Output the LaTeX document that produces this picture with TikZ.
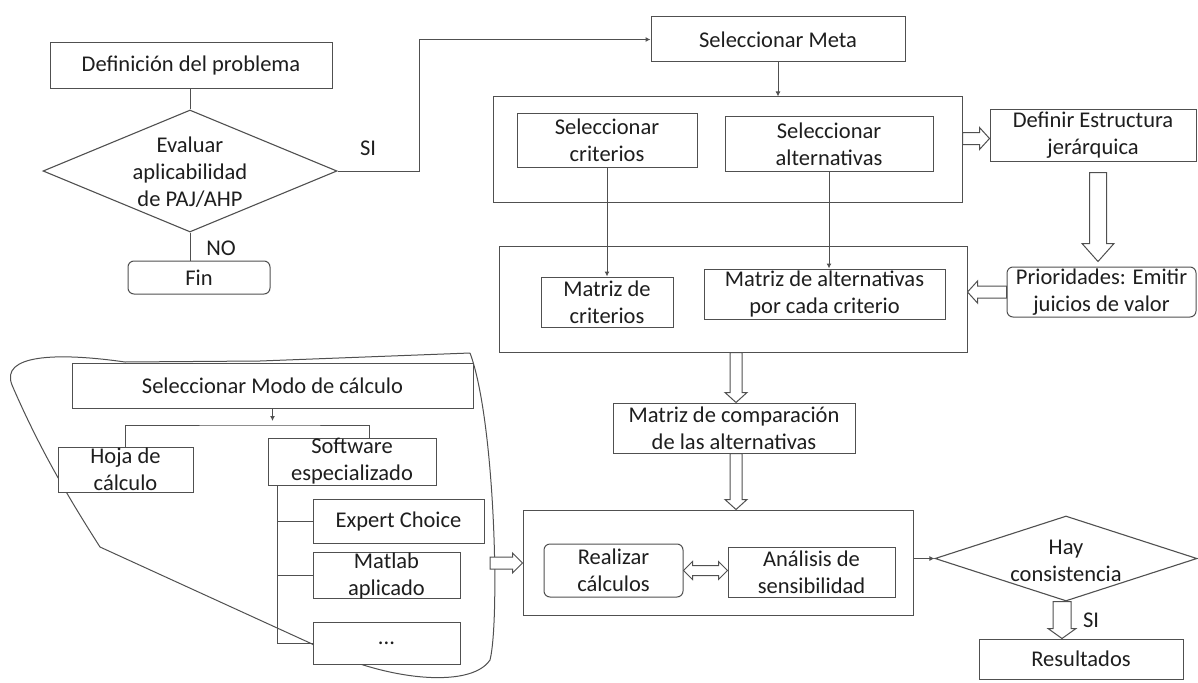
\documentclass[tikz,border=0pt]{standalone}
\usepackage{fontspec}
\setmainfont{Carlito}
\usetikzlibrary{shapes.geometric,arrows.meta,calc}
\definecolor{linec}{HTML}{505050}
\definecolor{textc}{HTML}{1E1E1E}
\begin{document}
\begin{tikzpicture}[x=1pt,y=-1pt,
  font=\fontsize{22.5}{27}\selectfont,
  box/.style={draw=linec, line width=1pt, fill=white, inner sep=0pt, align=center, text=textc},
  rbox/.style={box, rounded corners=6pt},
  frame/.style={draw=linec, line width=1pt, inner sep=0pt},
  dia/.style={diamond, draw=linec, line width=1.1pt, inner sep=0pt, fill=white},
  txt/.style={inner sep=0pt, align=center, text=textc},
  line/.style={draw=linec, line width=1pt},
  sarrow/.style={line, -{Latex[length=5pt,width=5pt]}},
  hwid/.store in=\hwid, hhead/.store in=\hhead, hlen/.store in=\hlen,
  hwid=6, hhead=11, hlen=10,
  hollow/.style={draw=linec, line width=1pt, fill=white, line join=miter, to path={
    let \p1=(\tikztostart), \p2=(\tikztotarget),
        \n1={atan2(\y2-\y1,\x2-\x1)}, \n2={veclen(\x2-\x1,\y2-\y1)-\hlen} in
    ($(\p1)+(\n1+90:\hwid pt)$) -- ($(\p1)+(\n1:\n2)+(\n1+90:\hwid pt)$)
    -- ($(\p1)+(\n1:\n2)+(\n1+90:\hhead pt)$) -- (\p2)
    -- ($(\p1)+(\n1:\n2)+(\n1-90:\hhead pt)$) -- ($(\p1)+(\n1:\n2)+(\n1-90:\hwid pt)$)
    -- ($(\p1)+(\n1-90:\hwid pt)$) -- cycle}},
  hollowboth/.style={draw=linec, line width=1pt, fill=white, line join=miter, to path={
    let \p1=(\tikztostart), \p2=(\tikztotarget),
        \n1={atan2(\y2-\y1,\x2-\x1)}, \n2={veclen(\x2-\x1,\y2-\y1)-\hlen} in
    (\p1) -- ($(\p1)+(\n1:\hlen pt)+(\n1+90:\hhead pt)$) -- ($(\p1)+(\n1:\hlen pt)+(\n1+90:\hwid pt)$)
    -- ($(\p1)+(\n1:\n2)+(\n1+90:\hwid pt)$) -- ($(\p1)+(\n1:\n2)+(\n1+90:\hhead pt)$)
    -- (\p2) -- ($(\p1)+(\n1:\n2)+(\n1-90:\hhead pt)$) -- ($(\p1)+(\n1:\n2)+(\n1-90:\hwid pt)$)
    -- ($(\p1)+(\n1:\hlen pt)+(\n1-90:\hwid pt)$) -- ($(\p1)+(\n1:\hlen pt)+(\n1-90:\hhead pt)$) -- cycle}}
]
\useasboundingbox (0,0) rectangle (1198,682);
\fill[white] (0,0) rectangle (1198,682);

% enclosing outline of the calculation-mode group
\draw[line] (470,353) -- (260,361) -- (125,362) .. controls (55,352) and (0,355) .. (12,385)
  .. controls (40,450) and (70,500) .. (100,547) -- (310,643)
  .. controls (380,680) and (470,690) .. (490,660)
  .. controls (500,620) and (495,420) .. (470,353);

% top-left flow
\node[box, minimum width=282pt, minimum height=46pt] (def) at (191,66) {Definición del problema};
\node[dia, minimum width=294pt, minimum height=122pt] (eval) at (190,171) {};
\node[txt] (evalt) at (190,172) {Evaluar\\aplicabilidad\\de PAJ/AHP};
\node[rbox, minimum width=142pt, minimum height=33pt] (fin) at (199,277.5) {Fin};
\node[txt] (no) at (221,248) {NO};
\node[txt] (si1) at (368,148) {SI};

% goal and structure
\node[box, minimum width=254pt, minimum height=45pt] (meta) at (778,39.5) {Seleccionar Meta};
\node[frame, minimum width=469pt, minimum height=105pt] (big1) at (727.5,149.5) {};
\node[box, minimum width=180pt, minimum height=53pt] (selcrit) at (607,140.5) {Seleccionar\\criterios};
\node[box, minimum width=208pt, minimum height=54pt] (selalt) at (829,144) {Seleccionar\\alternativas};
\node[box, minimum width=206pt, minimum height=51pt] (defest) at (1093,135.5) {Definir Estructura\\jerárquica};
\node[rbox, minimum width=189pt, minimum height=50pt] (prior) at (1101.5,292) {Prioridades: Emitir\\juicios de valor};
\node[frame, minimum width=468pt, minimum height=106pt] (big2) at (733,299) {};
\node[box, minimum width=132pt, minimum height=50pt] (matcrit) at (607,302) {Matriz de\\criterios};
\node[box, minimum width=241pt, minimum height=50pt] (matalt) at (824.5,294) {Matriz de alternativas\\por cada criterio};
\node[box, minimum width=242pt, minimum height=50pt] (matcomp) at (734,428) {Matriz de comparación\\de las alternativas};

% calculation
\node[frame, minimum width=390pt, minimum height=105pt] (big3) at (718,562.5) {};
\node[rbox, minimum width=139pt, minimum height=53pt] (real) at (613.5,570.5) {Realizar\\cálculos};
\node[box, minimum width=167pt, minimum height=50pt] (anal) at (811.5,572) {Análisis de\\sensibilidad};
\node[dia, minimum width=262pt, minimum height=85pt] (hay) at (1066,558.5) {};
\node[txt] (hayt) at (1066,561) {Hay\\consistencia};
\node[box, minimum width=204pt, minimum height=40pt] (res) at (1081,659) {Resultados};
\node[txt] (si2) at (1091,620) {SI};

% calculation mode group
\node[box, minimum width=401pt, minimum height=45pt] (modo) at (272.5,385.5) {Seleccionar Modo de cálculo};
\node[box, minimum width=135pt, minimum height=45pt] (hoja) at (125.5,469.5) {Hoja de\\cálculo};
\node[box, minimum width=168pt, minimum height=47pt] (soft) at (352,461.5) {Software\\especializado};
\node[box, minimum width=171pt, minimum height=44pt] (expert) at (398.5,521) {Expert Choice};
\node[box, minimum width=147pt, minimum height=45pt] (matlab) at (386.5,575.5) {Matlab\\aplicado};
\node[box, minimum width=147pt, minimum height=42pt] (dots) at (386.5,643) {...};
\coordinate (br) at (272,425);
\coordinate (blobR) at (490,563);

% connectors
\draw[line] (eval.north) -- (eval.north |- def.south);
\draw[line] (eval.south) -- (eval.south |- fin.north);
\draw[sarrow] (eval.east) -- ++(82,0) |- (meta.west);
\draw[sarrow] (meta.south) -- (meta.south |- big1.north);
\draw[sarrow] (selcrit.south) -- (selcrit.south |- matcrit.north);
\draw[sarrow] (selalt.south) -- (selalt.south |- matalt.north);
\path[hollow] ([yshift=-3pt]big1.east |- defest.west) to ([yshift=-3pt]defest.west);
\path[hollow, hwid=8.5, hhead=16, hlen=18] ([xshift=5pt, yshift=-11pt]defest.south) to ([xshift=-3.5pt, yshift=5pt]prior.north);
\path[hollow] (prior.west) to (prior.west -| big2.east);
\path[hollow] ([xshift=2pt]matcomp.north |- big2.south) to ([xshift=2pt]matcomp.north);
\path[hollow] ([xshift=2pt]matcomp.south) to ([xshift=2pt]matcomp.south |- big3.north);
\path[hollowboth, hwid=5, hhead=9, hlen=9] (real.east) to (real.east -| anal.west);
\path[hollow, hwid=6, hhead=10] (blobR) to (blobR -| big3.west);
\draw[sarrow] (big3.east |- hay.west) -- (hay.west);
\path[hollow, hwid=9, hhead=14, hlen=10] ([xshift=-4pt]hay.south) to ([xshift=-4pt]hay.south |- res.north);
\draw[sarrow, shorten >=4pt] (modo.south) -- (modo.south |- br);
\draw[line] (hoja.north) |- (br) -| ([xshift=17pt]soft.north);
\draw[line] ([xshift=-75pt]soft.south) |- (dots.west);
\draw[line] (expert.west) -- ++(-36,0);
\draw[line] (matlab.west) -- ++(-36,0);
\end{tikzpicture}
\end{document}
